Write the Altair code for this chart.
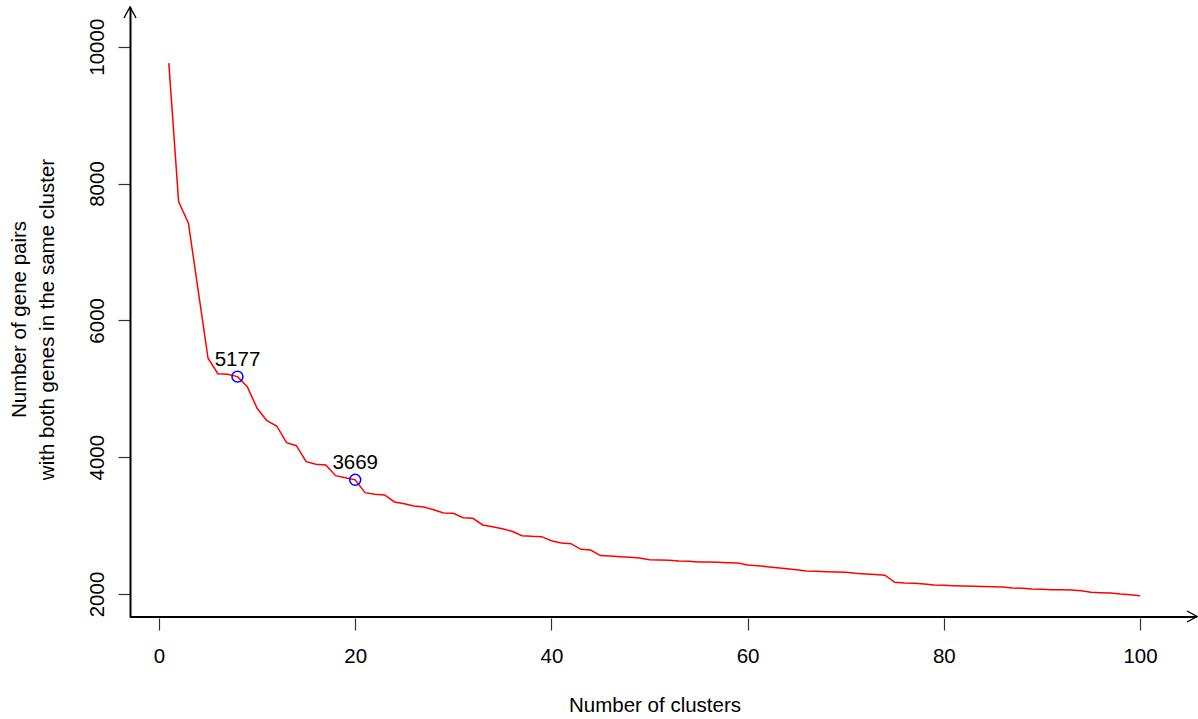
import altair as alt
import pandas as pd

# Number of clusters (k) and the count of gene pairs that share a cluster
clusters = list(range(1, 101))
gene_pairs = [
    9760, 7735, 7420, 6430, 5446, 5220, 5212, 5177, 5031, 4715,
    4534, 4456, 4212, 4168, 3934, 3896, 3886, 3730, 3700, 3669,
    3481, 3458, 3447, 3345, 3320, 3287, 3272, 3232, 3184, 3180,
    3115, 3107, 3009, 2984, 2955, 2917, 2852, 2843, 2838, 2779,
    2746, 2735, 2653, 2643, 2562, 2556, 2546, 2536, 2526, 2502,
    2497, 2493, 2482, 2478, 2468, 2468, 2463, 2458, 2453, 2424,
    2414, 2400, 2385, 2370, 2355, 2336, 2332, 2327, 2322, 2317,
    2302, 2292, 2285, 2275, 2171, 2161, 2156, 2146, 2132, 2127,
    2122, 2117, 2112, 2110, 2107, 2102, 2088, 2083, 2073, 2068,
    2063, 2063, 2058, 2049, 2024, 2019, 2014, 2000, 1990, 1975,
]

# Highlighted choices of k
marked_k = [8, 20]
marked_pairs = [5177, 3669]
marked_text = ["5177", "3669"]

x_ticks = [0, 20, 40, 60, 80, 100]
y_ticks = [2000, 4000, 6000, 8000, 10000]

W, H = 1067, 610
FONT = "Liberation Sans"
FS = 20.5

curve = pd.DataFrame({"k": clusters, "pairs": gene_pairs})
marks = pd.DataFrame({"k": marked_k, "pairs": marked_pairs, "label": marked_text})
one = pd.DataFrame({"a": [0]})

x_scale = alt.Scale(domain=[-2.956, 105.81], nice=False, zero=False)
y_scale = alt.Scale(domain=[1663.8, 10580], nice=False, zero=False)

x_enc = alt.X(
    "k:Q",
    scale=x_scale,
    axis=alt.Axis(
        values=x_ticks,
        format="d",
        title="Number of clusters",
        domain=False,
        offset=1,
        grid=False,
        tickSize=12,
        tickColor="#333333",
        tickWidth=1.2,
        labelPadding=16,
        labelBaseline="top",
        labelFontSize=FS,
        labelFont=FONT,
        labelColor="black",
        titleFont=FONT,
        titleFontSize=FS,
        titleFontWeight="normal",
        titleColor="black",
        titleX=524.5,
        titleY=93,
        titleAlign="center",
        titleBaseline="alphabetic",
    ),
)
y_enc = alt.Y(
    "pairs:Q",
    scale=y_scale,
    axis=alt.Axis(
        values=y_ticks,
        format="d",
        title=["Number of gene pairs", "with both genes in the same cluster"],
        domain=True,
        domainColor="black",
        domainWidth=2,
        grid=False,
        tickSize=12,
        tickColor="#333333",
        tickWidth=1.2,
        labelAngle=-90,
        labelAlign="center",
        labelBaseline="alphabetic",
        labelPadding=15,
        labelFontSize=FS,
        labelFont=FONT,
        labelColor="black",
        titleFont=FONT,
        titleFontSize=FS,
        titleFontWeight="normal",
        titleColor="black",
        titleAngle=-90,
        titleAlign="center",
        titleBaseline="alphabetic",
        titleLineHeight=28,
        titleX=-105,
        titleY=312,
    ),
)

line = alt.Chart(curve).mark_line(color="#FF0000", strokeWidth=1.5).encode(x=x_enc, y=y_enc)

rings = alt.Chart(marks).mark_point(
    shape="circle", filled=False, color="#0000FF", size=120, strokeWidth=1.5, opacity=1
).encode(x=alt.X("k:Q", scale=x_scale), y=alt.Y("pairs:Q", scale=y_scale))

labels = alt.Chart(marks).mark_text(
    font=FONT, fontSize=FS, color="black", baseline="alphabetic", dy=-11
).encode(x=alt.X("k:Q", scale=x_scale), y=alt.Y("pairs:Q", scale=y_scale), text="label:N")

# Horizontal axis line running out to the arrow tip
x_line = alt.Chart(one).mark_rule(color="black", strokeWidth=2).encode(
    x=alt.value(0), x2=alt.value(W), y=alt.value(H)
)

# Open arrowheads at the ends of both axes
up_arrow = alt.Chart(one).mark_point(
    shape="M -0.55 1 L 0 0 L 0.55 1", filled=False, color="black",
    size=484, strokeWidth=1.4, opacity=1
).encode(x=alt.value(0), y=alt.value(0))

right_arrow = alt.Chart(one).mark_point(
    shape="M -1 -0.55 L 0 0 L -1 0.55", filled=False, color="black",
    size=400, strokeWidth=1.4, opacity=1
).encode(x=alt.value(W), y=alt.value(H - 0.5))

chart = alt.layer(line, rings, labels, x_line, up_arrow, right_arrow).properties(
    width=W,
    height=H,
    autosize=alt.AutoSizeParams(type="none"),
    padding={"left": 130, "top": 7, "right": 1, "bottom": 102},
    background="white",
).configure_view(stroke=None)

chart.save("out.html", embed_options={"renderer": "svg", "actions": False})
